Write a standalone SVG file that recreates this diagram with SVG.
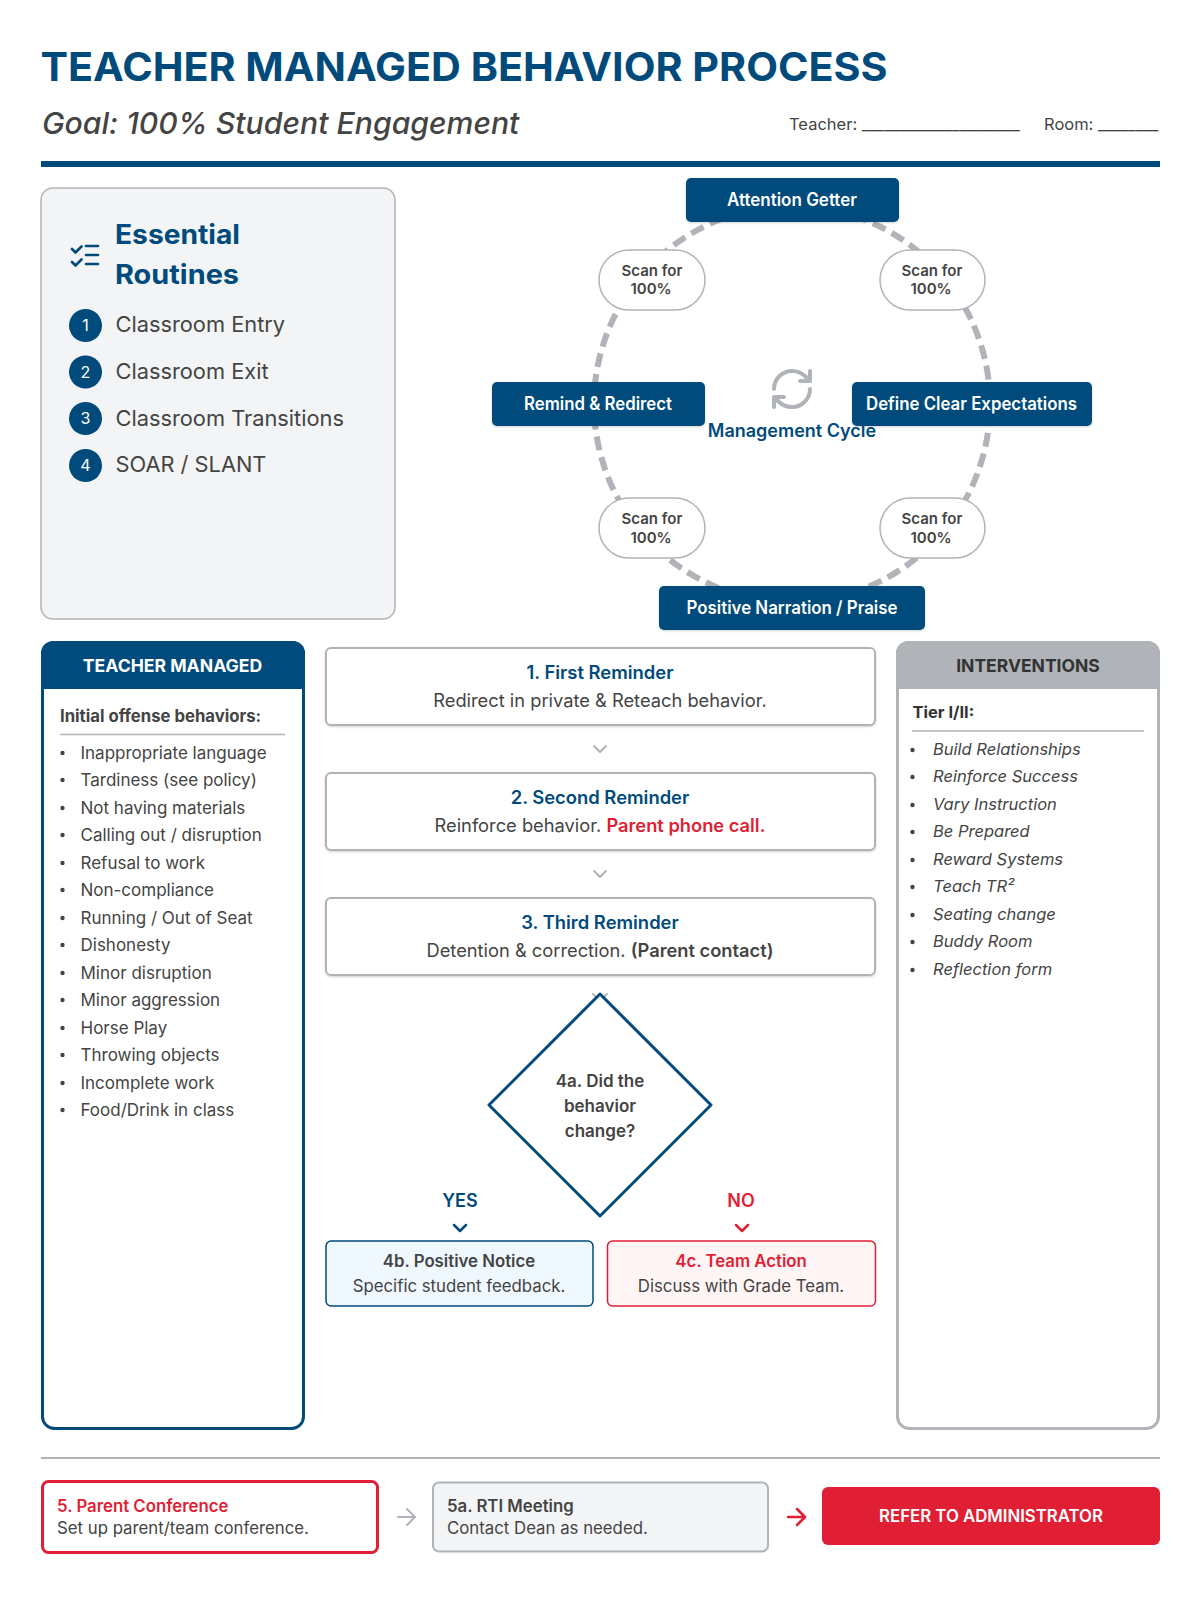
<svg xmlns="http://www.w3.org/2000/svg" width="1200" height="1600" viewBox="0 0 1200 1600">
<defs><filter id="sh" x="-5%" y="-10%" width="110%" height="125%"><feDropShadow dx="0" dy="1" stdDeviation="1" flood-color="#000" flood-opacity="0.18"/></filter></defs>
<style>
text{font-family:Inter,"Liberation Sans",sans-serif;fill:#444}
.c{text-anchor:middle}
.blue{fill:#004b7c}.red{fill:#e01f35}.w{fill:#fff}
.h{font-weight:700}
.node{font-size:18px;font-weight:600;fill:#fff;text-anchor:middle}
.nb{fill:#004b7c}
.sd{filter:url(#sh)}
.scan{fill:#fff;stroke:#b0b3b8;stroke-width:1.5}
.st{font-size:15px;font-weight:600;text-anchor:middle;fill:#444}
.box{fill:#fff;stroke:#b0b3b8;stroke-width:2}
.t1{font-size:18.4px;font-weight:600;fill:#004b7c;text-anchor:middle}
.t2{font-size:18.3px;text-anchor:middle;fill:#444}
.li{font-size:17px}
.it{font-size:16.5px;font-style:italic}
.chev{fill:none;stroke-width:2;stroke-linecap:round;stroke-linejoin:round}
.b{stroke-width:2.5}
.num{font-size:16px;fill:#fff;text-anchor:middle}
.rt{font-size:21.8px}
.d{font-size:17px;font-weight:600}
.s{font-size:16.8px}
.sb{font-size:16.8px;font-weight:600}
</style>
<rect width="1200" height="1600" fill="#fff"/>
<g id="header">
<text x="40.500" y="81" font-size="40" font-weight="700" class="blue" textLength="847" lengthAdjust="spacingAndGlyphs">TEACHER MANAGED BEHAVIOR PROCESS</text>
<text x="42" y="134" font-size="30.200" font-weight="500" font-style="italic">Goal: 100% Student Engagement</text>
<text x="789" y="130" font-size="16.500">Teacher: _____________________</text>
<text x="1044" y="130" font-size="16.500">Room: ________</text>
<rect x="41" y="161" width="1119" height="6" fill="#004b7c"/>
</g>
<g id="routines">
<rect x="41" y="188" width="354" height="431" rx="12" fill="#f3f4f6" stroke="#b0b3b8" stroke-width="1.5"/>
<g fill="none" stroke="#004b7c" stroke-width="2.6" stroke-linecap="round" stroke-linejoin="round"><path d="M72 249l3.500 3.500 6-6M72 262l3.500 3.500 6-6M86 246h12M86 255h12M86 264h12"/></g>
<text x="115" y="244" font-size="27" class="blue h" textLength="125" lengthAdjust="spacingAndGlyphs">Essential</text>
<text x="115" y="284" font-size="27" class="blue h" textLength="124" lengthAdjust="spacingAndGlyphs">Routines</text>
<circle cx="85.500" cy="325.500" r="16.500" class="nb"/><text x="85.500" y="331" class="num">1</text><text x="115.500" y="332" class="rt">Classroom Entry</text>
<circle cx="85.500" cy="372" r="16.500" class="nb"/><text x="85.500" y="378" class="num">2</text><text x="115.500" y="379" class="rt">Classroom Exit</text>
<circle cx="85.500" cy="418.500" r="16.500" class="nb"/><text x="85.500" y="424" class="num">3</text><text x="115.500" y="426" class="rt">Classroom Transitions</text>
<circle cx="85.500" cy="465.500" r="16.500" class="nb"/><text x="85.500" y="471" class="num">4</text><text x="115.500" y="472" class="rt">SOAR / SLANT</text>
</g>
<g id="connectors">
<circle cx="792" cy="404" r="198" fill="none" stroke="#b0b3b8" stroke-width="6" stroke-dasharray="14 7" stroke-dashoffset="-8"/>
</g>
<g id="cycle-center">
<g transform="translate(768 365) scale(2)" fill="none" stroke="#b0b3b8" stroke-width="2" stroke-linecap="round" stroke-linejoin="round"><path d="M3 12a9 9 0 0 1 9-9 9.750 9.750 0 0 1 6.740 2.740L21 8M21 3v5h-5M21 12a9 9 0 0 1-9 9 9.750 9.750 0 0 1-6.740-2.740L3 16M8 16H3v5"/></g>
</g>
<g id="n-attention"><rect x="686" y="178" width="213" height="44" rx="5" class="nb sd"/><text x="792" y="206" class="node" textLength="130" lengthAdjust="spacingAndGlyphs">Attention Getter</text></g>
<g id="n-define"><rect x="852" y="382" width="240" height="44" rx="5" class="nb sd"/><text x="971.500" y="410" class="node" textLength="211" lengthAdjust="spacingAndGlyphs">Define Clear Expectations</text></g>
<g id="n-remind"><rect x="492" y="382" width="213" height="44" rx="5" class="nb sd"/><text x="598" y="410" class="node" textLength="148" lengthAdjust="spacingAndGlyphs">Remind &amp; Redirect</text></g>
<g id="n-positive"><rect x="659" y="586" width="266" height="44" rx="5" class="nb sd"/><text x="792" y="614" class="node" textLength="211" lengthAdjust="spacingAndGlyphs">Positive Narration / Praise</text></g>
<g id="n-scan1"><rect x="599" y="250" width="106" height="60" rx="30" class="scan"/><text x="652" y="276" class="st">Scan for</text><text x="651" y="294" class="st">100%</text></g>
<g id="n-scan2"><rect x="880" y="250" width="105" height="60" rx="30" class="scan"/><text x="932" y="276" class="st">Scan for</text><text x="931" y="294" class="st">100%</text></g>
<g id="n-scan3"><rect x="599" y="498" width="106" height="60" rx="30" class="scan"/><text x="652" y="524" class="st">Scan for</text><text x="651" y="543" class="st">100%</text></g>
<g id="n-scan4"><rect x="880" y="498" width="105" height="60" rx="30" class="scan"/><text x="932" y="524" class="st">Scan for</text><text x="931" y="543" class="st">100%</text></g>
<text x="792" y="437" font-size="18" font-weight="600" class="blue c">Management Cycle</text>
<g id="teacher-managed">
<rect x="42.500" y="642.500" width="261" height="786" rx="12" fill="#fff" stroke="#004b7c" stroke-width="3"/>
<path d="M41 689V653a12 12 0 0 1 12-12H293a12 12 0 0 1 12 12V689Z" fill="#004b7c"/>
<text x="172.500" y="672" font-size="17.600" font-weight="700" class="w c">TEACHER MANAGED</text>
<text x="60" y="722" font-size="16.700" font-weight="700">Initial offense behaviors:</text>
<path d="M60 734.500H285" stroke="#b0b3b8" stroke-width="1.5"/>
<g fill="#444"><circle cx="62.500" cy="753" r="2.200"/><circle cx="62.500" cy="780" r="2.200"/><circle cx="62.500" cy="808" r="2.200"/><circle cx="62.500" cy="835" r="2.200"/><circle cx="62.500" cy="863" r="2.200"/><circle cx="62.500" cy="890" r="2.200"/><circle cx="62.500" cy="918" r="2.200"/><circle cx="62.500" cy="945" r="2.200"/><circle cx="62.500" cy="973" r="2.200"/><circle cx="62.500" cy="1000" r="2.200"/><circle cx="62.500" cy="1028" r="2.200"/><circle cx="62.500" cy="1055" r="2.200"/><circle cx="62.500" cy="1083" r="2.200"/><circle cx="62.500" cy="1110" r="2.200"/></g>
<g class="li">
<text x="80.500" y="759">Inappropriate language</text>
<text x="80.500" y="786">Tardiness (see policy)</text>
<text x="80.500" y="814">Not having materials</text>
<text x="80.500" y="841">Calling out / disruption</text>
<text x="80.500" y="869">Refusal to work</text>
<text x="80.500" y="896">Non-compliance</text>
<text x="80.500" y="924">Running / Out of Seat</text>
<text x="80.500" y="951">Dishonesty</text>
<text x="80.500" y="979">Minor disruption</text>
<text x="80.500" y="1006">Minor aggression</text>
<text x="80.500" y="1034">Horse Play</text>
<text x="80.500" y="1061">Throwing objects</text>
<text x="80.500" y="1089">Incomplete work</text>
<text x="80.500" y="1116">Food/Drink in class</text>
</g>
</g>
<g id="step1"><rect x="326" y="648" width="549" height="77" rx="5" class="box sd"/><text x="600" y="679" class="t1">1. First Reminder</text><text x="600" y="707" class="t2">Redirect in private &amp; Reteach behavior.</text></g>
<path class="chev" d="M594 746l6 6 6-6" stroke="#b0b3b8"/>
<g id="step2"><rect x="326" y="773" width="549" height="77" rx="5" class="box sd"/><text x="600" y="804" class="t1">2. Second Reminder</text><text x="600" y="832" class="t2">Reinforce behavior. <tspan class="red" font-weight="600">Parent phone call.</tspan></text></g>
<path class="chev" d="M594 871l6 6 6-6" stroke="#b0b3b8"/>
<g id="step3"><rect x="326" y="898" width="549" height="77" rx="5" class="box sd"/><text x="600" y="929" class="t1">3. Third Reminder</text><text x="600" y="957" class="t2">Detention &amp; correction. <tspan font-weight="600">(Parent contact)</tspan></text></g>
<path class="chev" d="M593 994l7 7 7-7" stroke="#b0b3b8"/>
<g id="decision"><path d="M600 994L711 1105L600 1216L489 1105Z" fill="#fff" stroke="#004b7c" stroke-width="3" stroke-linejoin="round"/>
<text x="600" y="1087" class="d c">4a. Did the</text><text x="600" y="1112" class="d c">behavior</text><text x="600" y="1137" class="d c">change?</text></g>
<text x="460" y="1207" font-size="18" font-weight="600" class="blue c">YES</text>
<path class="chev b" d="M454 1225l6 6 6-6" stroke="#004b7c"/>
<text x="741" y="1207" font-size="18" font-weight="600" class="red c">NO</text>
<path class="chev b" d="M736 1225l6 6 6-6" stroke="#e01f35"/>
<g id="n-4b"><rect x="326" y="1241" width="267" height="65" rx="5" fill="#f0f8ff" stroke="#004b7c" stroke-width="1.5"/><text x="459" y="1267" class="sb c">4b. Positive Notice</text><text x="459" y="1292" class="s c">Specific student feedback.</text></g>
<g id="n-4c"><rect x="607.500" y="1241" width="268" height="65" rx="5" fill="#fff5f5" stroke="#e01f35" stroke-width="1.500"/><text x="741" y="1267" class="sb red c">4c. Team Action</text><text x="741" y="1292" class="s c">Discuss with Grade Team.</text></g>
<g id="interventions">
<rect x="897.500" y="642.500" width="261" height="786" rx="12" fill="#fff" stroke="#b0b3b8" stroke-width="3"/>
<path d="M896 689V653a12 12 0 0 1 12-12H1148a12 12 0 0 1 12 12V689Z" fill="#b0b3b8"/>
<text x="1028" y="672" font-size="17.500" font-weight="700" class="c" style="fill:#333">INTERVENTIONS</text>
<text x="912.500" y="718" font-size="16.500" font-weight="700" style="fill:#333">Tier I/II:</text>
<path d="M912 731H1144" stroke="#b0b3b8" stroke-width="1.500"/>
<g fill="#444"><circle cx="912.500" cy="750" r="2.200"/><circle cx="912.500" cy="777" r="2.200"/><circle cx="912.500" cy="805" r="2.200"/><circle cx="912.500" cy="832" r="2.200"/><circle cx="912.500" cy="860" r="2.200"/><circle cx="912.500" cy="887" r="2.200"/><circle cx="912.500" cy="915" r="2.200"/><circle cx="912.500" cy="942" r="2.200"/><circle cx="912.500" cy="970" r="2.200"/></g>
<g class="it">
<text x="933" y="754.500">Build Relationships</text>
<text x="933" y="781.500">Reinforce Success</text>
<text x="933" y="809.500">Vary Instruction</text>
<text x="933" y="836.500">Be Prepared</text>
<text x="933" y="864.500">Reward Systems</text>
<text x="933" y="891.500">Teach TR²</text>
<text x="933" y="919.500">Seating change</text>
<text x="933" y="946.500">Buddy Room</text>
<text x="933" y="974.500">Reflection form</text>
</g>
</g>
<path d="M41 1458H1160" stroke="#b0b3b8" stroke-width="2"/>
<g id="n-5"><rect x="42.500" y="1481.500" width="335" height="71" rx="6" fill="#fff" stroke="#e01f35" stroke-width="3"/><text x="57" y="1512" class="sb red">5. Parent Conference</text><text x="57" y="1534" class="s">Set up parent/team conference.</text></g>
<path class="chev" d="M398 1517H414M407 1509l8 8-8 8" stroke="#b0b3b8"/>
<g id="n-5a"><rect x="433" y="1482.500" width="335" height="69" rx="6" fill="#f3f4f6" stroke="#b0b3b8" stroke-width="2"/><text x="447" y="1512" class="sb">5a. RTI Meeting</text><text x="447" y="1534" class="s">Contact Dean as needed.</text></g>
<path class="chev b" d="M788 1517H804M797 1509l8 8-8 8" stroke="#e01f35"/>
<g id="n-admin"><rect x="822" y="1487" width="338" height="58" rx="6" fill="#e01f35"/><text x="991" y="1522" font-size="16.800" font-weight="600" class="w c">REFER TO ADMINISTRATOR</text></g>
</svg>
